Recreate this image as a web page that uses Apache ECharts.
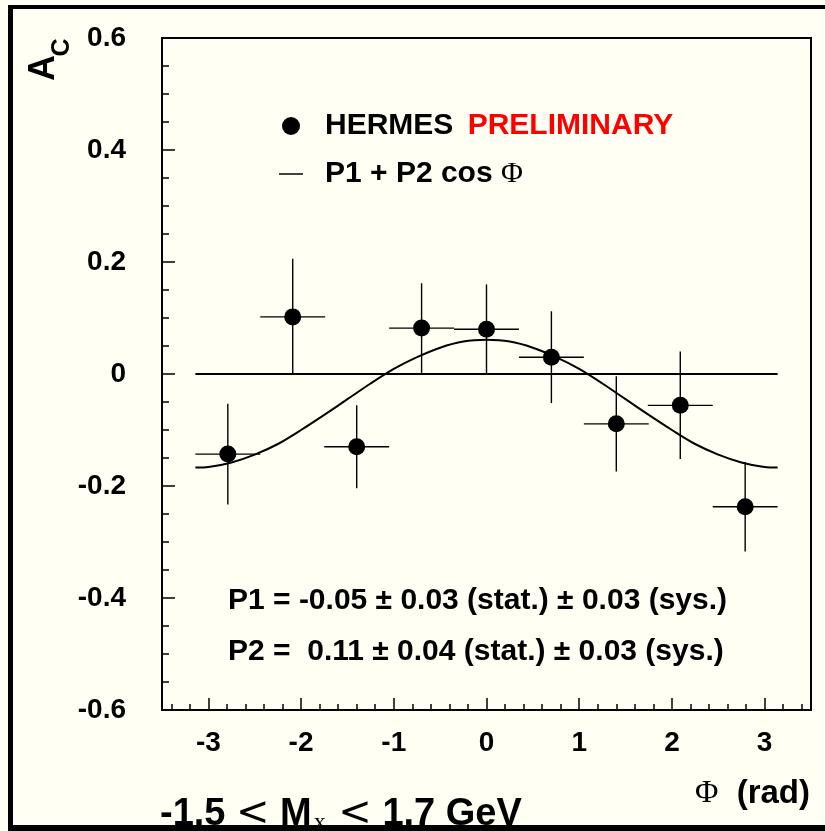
<!DOCTYPE html>
<html>
<head>
<meta charset="utf-8">
<script src="https://cdn.jsdelivr.net/npm/echarts@6/dist/echarts.min.js"></script>
<style>
html,body{margin:0;padding:0;background:#fffff4;overflow:hidden;}
#chart{width:825px;height:831px;}
</style>
</head>
<body>
<div id="chart"></div>
<script>
// ---- data ----
const phi    = [-2.79, -2.09, -1.40, -0.70, 0.00, 0.70, 1.40, 2.09, 2.79];
const ac     = [-0.143, 0.102, -0.130, 0.082, 0.080, 0.030, -0.089, -0.056, -0.237];
const acErr  = [0.090, 0.104, 0.074, 0.080, 0.080, 0.082, 0.085, 0.096, 0.080];
const phiErr = [0.35, 0.35, 0.35, 0.35, 0.35, 0.35, 0.35, 0.35, 0.35];

// fitted curve P1 + P2 cos(phi)
const fitPhi = [-3.14, -3.0, -2.75, -2.5, -2.25, -2.0, -1.75, -1.5, -1.25, -1.0, -0.75, -0.5, -0.25,
                0, 0.25, 0.5, 0.75, 1.0, 1.25, 1.5, 1.75, 2.0, 2.25, 2.5, 2.75, 3.0, 3.14];
const fitAc  = [-0.167, -0.166, -0.158, -0.144, -0.125, -0.100, -0.073, -0.045, -0.017, 0.009, 0.030, 0.047, 0.058,
                0.061, 0.058, 0.047, 0.030, 0.009, -0.017, -0.045, -0.073, -0.100, -0.125, -0.144, -0.158, -0.166, -0.167];

const zeroPhi = [-3.14, 3.14];
const zeroAc  = [0, 0];

const xRange = [-3.5, 3.5];
const yRange = [-0.6, 0.6];
const yStep = 0.2;

const seriesName = 'HERMES';
const fitName = 'P1 + P2 cos \u03A6';
const p1Text = 'P1 = -0.05 \u00B1 0.03 (stat.) \u00B1 0.03 (sys.)';
const p2Text = 'P2 =  0.11 \u00B1 0.04 (stat.) \u00B1 0.03 (sys.)';

// ---- build ----
const SANS = 'Liberation Sans';
const SERIF = 'Liberation Serif';
const pts = phi.map((x, i) => [x, ac[i], phiErr[i], acErr[i]]);
const fitData = fitPhi.map((x, i) => [x, fitAc[i]]);
const zeroData = zeroPhi.map((x, i) => [x, zeroAc[i]]);

const chart = echarts.init(document.getElementById('chart'), null, {renderer: 'canvas'});
const option = {
  animation: false,
  backgroundColor: '#fffff4',
  grid: {left: 162, right: 14, top: 38, bottom: 121, show: true, borderColor: '#000', borderWidth: 2, backgroundColor: 'transparent', containLabel: false, outerBoundsMode: 'none'},
  xAxis: {
    type: 'value', min: xRange[0], max: xRange[1], splitNumber: 7,
    axisLine: {show: true, onZero: false, lineStyle: {color: '#000', width: 2}},
    axisTick: {show: true, inside: true, length: 12, lineStyle: {color: '#000', width: 1.5}},
    minorTick: {show: true, splitNumber: 5, length: 6, lineStyle: {color: '#000', width: 1.5}},
    splitLine: {show: false},
    axisLabel: {
      show: true, margin: 19, color: '#000', fontFamily: SANS, fontWeight: 'bold', fontSize: 28,
      formatter: v => (Math.abs(v - Math.round(v)) < 1e-9 ? String(Math.round(v)) : '')
    }
  },
  yAxis: {
    type: 'value', min: yRange[0], max: yRange[1], interval: yStep,
    axisLine: {show: true, onZero: false, lineStyle: {color: '#000', width: 2}},
    axisTick: {show: true, inside: true, length: 13, lineStyle: {color: '#000', width: 1.5}},
    minorTick: {show: true, splitNumber: 4, length: 7, lineStyle: {color: '#000', width: 1.5}},
    splitLine: {show: false},
    axisLabel: {show: true, margin: 36, color: '#000', fontFamily: SANS, fontWeight: 'bold', fontSize: 28}
  },
  legend: {
    orient: 'vertical', left: 279, top: 111, padding: 0, itemWidth: 24, itemHeight: 18, itemGap: 18,
    selectedMode: false,
    textStyle: {
      fontFamily: SANS, fontWeight: 'bold', fontSize: 30, color: '#000', padding: [0, 0, 0, 17],
      rich: {
        r: {fontFamily: SANS, fontWeight: 'bold', fontSize: 30, color: '#ff0000', padding: [0, 0, 0, 6]},
        phi: {fontFamily: SERIF, fontWeight: 'normal', fontSize: 30, color: '#000'}
      }
    },
    formatter: name => name === seriesName ? 'HERMES {r|PRELIMINARY}' : 'P1 + P2 cos {phi|\u03A6}',
    data: [
      {name: seriesName, icon: 'circle'},
      {name: fitName, icon: 'path://M0,0H24V1.5H0Z'}
    ]
  },
  series: [
    {
      name: 'zero', type: 'line', data: zeroData, showSymbol: false, symbol: 'none',
      lineStyle: {color: '#000', width: 2.2}, z: 2, silent: true
    },
    {
      name: fitName, type: 'line', data: fitData, smooth: 0.3, showSymbol: false, symbol: 'none',
      itemStyle: {color: '#000'}, lineStyle: {color: '#000', width: 2}, z: 4, silent: true
    },
    {
      name: 'err', type: 'custom', data: pts, z: 3, silent: true,
      renderItem: function (params, api) {
        const x = api.value(0), y = api.value(1), ex = api.value(2), ey = api.value(3);
        const l = api.coord([x - ex, y]), r = api.coord([x + ex, y]);
        const t = api.coord([x, y + ey]), b = api.coord([x, y - ey]);
        const st = {stroke: '#000', lineWidth: 1.4};
        return {type: 'group', children: [
          {type: 'line', shape: {x1: l[0], y1: l[1], x2: r[0], y2: r[1]}, style: st},
          {type: 'line', shape: {x1: t[0], y1: t[1], x2: b[0], y2: b[1]}, style: st}
        ]};
      }
    },
    {
      name: seriesName, type: 'scatter', data: pts.map(p => [p[0], p[1]]), symbol: 'circle', symbolSize: 17,
      itemStyle: {color: '#000', opacity: 1}, z: 5, silent: true
    }
  ],
  graphic: [
    {type: 'text', x: 44.5, y: 68, rotation: Math.PI / 2, z: 10,
     style: {text: 'A', fontFamily: SANS, fontWeight: 'bold', fontSize: 36, fill: '#000', align: 'center', verticalAlign: 'middle'}},
    {type: 'text', x: 62, y: 47.5, rotation: Math.PI / 2, z: 10,
     style: {text: 'C', fontFamily: SANS, fontWeight: 'bold', fontSize: 25, fill: '#000', align: 'center', verticalAlign: 'middle'}},
    {type: 'text', x: 228, y: 601, z: 10,
     style: {text: p1Text, fontFamily: SANS, fontWeight: 'bold', fontSize: 30, fill: '#000', align: 'left', verticalAlign: 'middle'}},
    {type: 'text', x: 228, y: 652, z: 10,
     style: {text: p2Text, fontFamily: SANS, fontWeight: 'bold', fontSize: 30, fill: '#000', align: 'left', verticalAlign: 'middle'}},
    {type: 'text', x: 810, y: 794, z: 10,
     style: {text: '{phi|\u03A6}  (rad)', fontFamily: SANS, fontWeight: 'bold', fontSize: 33, fill: '#000', align: 'right', verticalAlign: 'middle',
       rich: {phi: {fontFamily: SERIF, fontWeight: 'normal', fontSize: 32, fill: '#000'}}}},
    {type: 'text', x: 160, y: 815, z: 10,
     style: {text: '-1.5 {s|<} M{x|x} {s|<} 1.7 GeV', fontFamily: SANS, fontWeight: 'bold', fontSize: 38, fill: '#000', align: 'left', verticalAlign: 'middle',
       rich: {
         s: {fontFamily: 'DejaVu Sans', fontWeight: 'normal', fontSize: 40, fill: '#000'},
         x: {fontFamily: SERIF, fontWeight: 'normal', fontSize: 24, fill: '#000', padding: [16, 2, 0, 2]}
       }}},
    // outer frame
    {type: 'rect', z: 20, shape: {x: 8, y: 5, width: 817, height: 4}, style: {fill: '#000'}},
    {type: 'rect', z: 20, shape: {x: 8, y: 5, width: 5, height: 826}, style: {fill: '#000'}},
    {type: 'rect', z: 20, shape: {x: 8, y: 825, width: 817, height: 6}, style: {fill: '#000'}}
  ]
};
chart.setOption(option);
</script>
</body>
</html>
